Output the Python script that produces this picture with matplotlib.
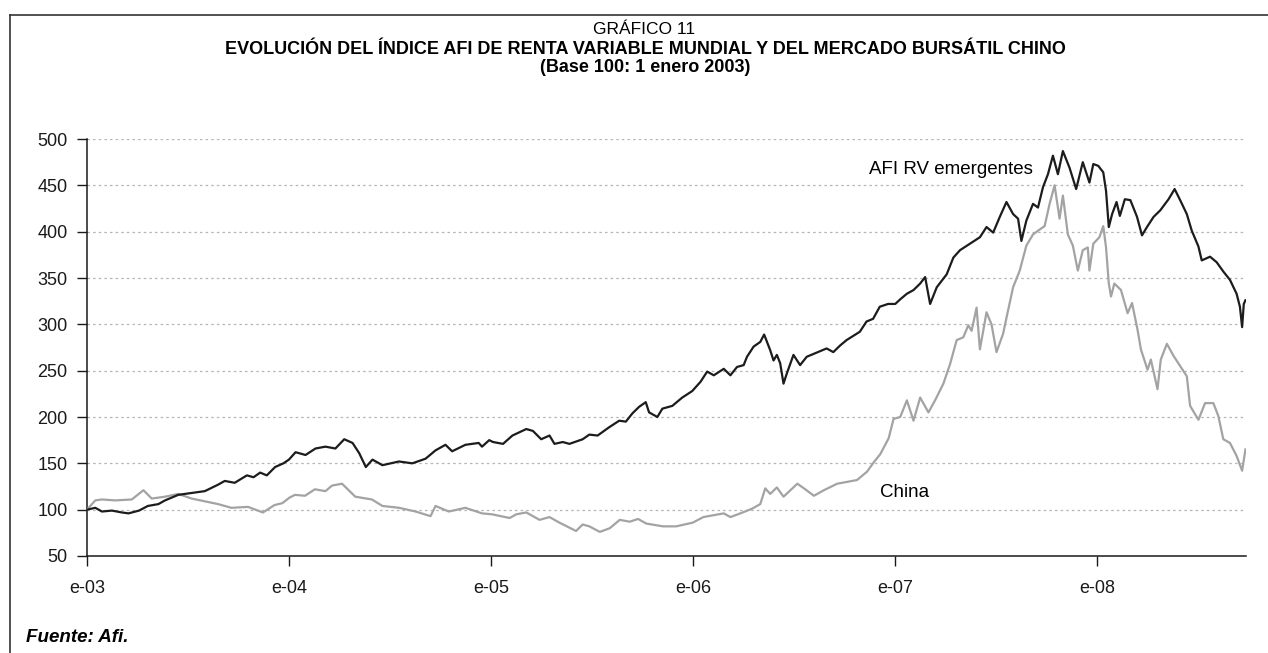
import matplotlib
matplotlib.use("Agg")
import matplotlib.pyplot as plt
from matplotlib.lines import Line2D
import pandas as pd

plt.rcParams['font.family'] = ['Liberation Sans', 'DejaVu Sans']

# AFI RV emergentes (base 100 = 1 enero 2003)
afi_dates = [
    '2003-01-01', '2003-01-16', '2003-01-28', '2003-02-15', '2003-03-05', '2003-03-17',
    '2003-04-05', '2003-04-21', '2003-05-10', '2003-05-22', '2003-06-15', '2003-07-09',
    '2003-08-02', '2003-08-26', '2003-09-07', '2003-09-25', '2003-10-17', '2003-10-29',
    '2003-11-10', '2003-11-22', '2003-12-07', '2003-12-22',
    '2004-01-01', '2004-01-13', '2004-01-31', '2004-02-18', '2004-03-07', '2004-03-25',
    '2004-04-10', '2004-04-25', '2004-05-07', '2004-05-19', '2004-05-31', '2004-06-18',
    '2004-07-18', '2004-08-11', '2004-09-04', '2004-09-22', '2004-10-10', '2004-10-22',
    '2004-11-15', '2004-12-09', '2004-12-15', '2004-12-28',
    '2005-01-04', '2005-01-22', '2005-02-08', '2005-03-05', '2005-03-17', '2005-04-01',
    '2005-04-16', '2005-04-25', '2005-05-10', '2005-05-22', '2005-06-15', '2005-06-27',
    '2005-07-12', '2005-08-02', '2005-08-20', '2005-09-01', '2005-09-13', '2005-09-25',
    '2005-10-07', '2005-10-13', '2005-10-28', '2005-11-06', '2005-11-24', '2005-12-12',
    '2005-12-30',
    '2006-01-14', '2006-01-26', '2006-02-07', '2006-02-25', '2006-03-09', '2006-03-21',
    '2006-04-02', '2006-04-08', '2006-04-20', '2006-05-02', '2006-05-09', '2006-05-20',
    '2006-05-26', '2006-06-01', '2006-06-07', '2006-06-13', '2006-06-19', '2006-07-01',
    '2006-07-13', '2006-07-25', '2006-08-06', '2006-08-30', '2006-09-11', '2006-09-23',
    '2006-10-05', '2006-10-29', '2006-11-10', '2006-11-22', '2006-12-04', '2006-12-19',
    '2007-01-01', '2007-01-10', '2007-01-22', '2007-02-03', '2007-02-15', '2007-02-24',
    '2007-03-05', '2007-03-17', '2007-04-04', '2007-04-16', '2007-04-28', '2007-05-16',
    '2007-06-03', '2007-06-15', '2007-06-27', '2007-07-09', '2007-07-21', '2007-08-02',
    '2007-08-11', '2007-08-17', '2007-08-26', '2007-09-07', '2007-09-16', '2007-09-25',
    '2007-10-04', '2007-10-13', '2007-10-22', '2007-10-31', '2007-11-12', '2007-11-24',
    '2007-12-06', '2007-12-18', '2007-12-25',
    '2008-01-03', '2008-01-12', '2008-01-17', '2008-01-22', '2008-01-28', '2008-02-05',
    '2008-02-11', '2008-02-20', '2008-03-01', '2008-03-13', '2008-03-22', '2008-03-31',
    '2008-04-12', '2008-04-24', '2008-05-09', '2008-05-20', '2008-05-30', '2008-06-11',
    '2008-06-20', '2008-07-02', '2008-07-08', '2008-07-23', '2008-08-04', '2008-08-16',
    '2008-08-28', '2008-09-09', '2008-09-15', '2008-09-19', '2008-09-22', '2008-09-25',
]
afi_values = [
    100, 102, 98, 99, 97, 96,
    99, 104, 106, 110, 116, 118,
    120, 127, 131, 129, 137, 135,
    140, 137, 146, 150,
    154, 162, 159, 166, 168, 166,
    176, 172, 161, 146, 154, 148,
    152, 150, 155, 164, 170, 163,
    170, 172, 168, 175,
    173, 171, 180, 187, 185, 176,
    180, 171, 173, 171, 176, 181,
    180, 189, 196, 195, 204, 211,
    216, 205, 200, 209, 212, 221,
    228,
    238, 249, 245, 252, 245, 254,
    256, 265, 276, 281, 289, 272,
    261, 267, 258, 236, 247, 267,
    256, 265, 268, 274, 270, 277,
    283, 292, 303, 306, 319, 322,
    322, 327, 333, 337, 344, 351,
    322, 340, 354, 372, 380, 387,
    394, 405, 399, 416, 432, 419,
    414, 390, 412, 430, 426, 448,
    462, 482, 462, 487, 469, 446,
    475, 453, 473,
    471, 464, 444, 405, 419, 432,
    417, 435, 434, 416, 396, 405,
    416, 423, 435, 446, 434, 419,
    401, 384, 369, 373, 367, 357,
    348, 333, 319, 297, 322, 326,
]

# China (base 100 = 1 enero 2003)
china_dates = [
    '2003-01-01', '2003-01-16', '2003-01-28', '2003-02-21', '2003-03-23', '2003-04-13',
    '2003-04-28', '2003-05-22', '2003-06-15', '2003-07-09', '2003-08-02', '2003-08-26',
    '2003-09-19', '2003-10-19', '2003-11-15', '2003-12-06', '2003-12-20',
    '2004-01-02', '2004-01-12', '2004-01-30', '2004-02-17', '2004-03-07', '2004-03-19',
    '2004-04-06', '2004-04-30', '2004-05-30', '2004-06-18', '2004-07-18', '2004-08-17',
    '2004-09-13', '2004-09-22', '2004-10-16', '2004-11-15', '2004-12-15',
    '2005-01-02', '2005-01-10', '2005-02-03', '2005-02-15', '2005-03-05', '2005-03-29',
    '2005-04-16', '2005-05-04', '2005-06-03', '2005-06-15', '2005-06-27', '2005-07-16',
    '2005-08-03', '2005-08-21', '2005-09-08', '2005-09-23', '2005-10-08', '2005-11-07',
    '2005-12-01', '2005-12-31',
    '2006-01-19', '2006-02-07', '2006-02-25', '2006-03-09', '2006-03-27', '2006-04-17',
    '2006-05-02', '2006-05-11', '2006-05-20', '2006-06-01', '2006-06-13', '2006-07-08',
    '2006-07-20', '2006-08-07', '2006-08-25', '2006-09-18', '2006-10-06', '2006-10-24',
    '2006-11-11', '2006-11-23', '2006-12-05', '2006-12-20', '2006-12-29',
    '2007-01-10', '2007-01-22', '2007-02-03', '2007-02-15', '2007-03-02', '2007-03-14',
    '2007-03-29', '2007-04-10', '2007-04-22', '2007-05-04', '2007-05-13', '2007-05-19',
    '2007-05-28', '2007-06-03', '2007-06-15', '2007-06-24', '2007-07-03', '2007-07-15',
    '2007-07-21', '2007-08-02', '2007-08-14', '2007-08-26', '2007-09-07', '2007-09-16',
    '2007-09-28', '2007-10-07', '2007-10-16', '2007-10-25', '2007-10-31', '2007-11-09',
    '2007-11-18', '2007-11-27', '2007-12-06', '2007-12-15', '2007-12-18', '2007-12-25',
    '2008-01-05', '2008-01-12', '2008-01-17', '2008-01-22', '2008-01-26', '2008-02-01',
    '2008-02-13', '2008-02-25', '2008-03-04', '2008-03-14', '2008-03-20', '2008-04-01',
    '2008-04-07', '2008-04-19', '2008-04-25', '2008-05-06', '2008-05-18', '2008-05-30',
    '2008-06-11', '2008-06-17', '2008-07-02', '2008-07-14', '2008-07-29', '2008-08-07',
    '2008-08-16', '2008-08-28', '2008-09-09', '2008-09-19', '2008-09-25',
]
china_values = [
    100, 110, 111, 110, 111, 121,
    112, 114, 117, 112, 109, 106,
    102, 103, 97, 105, 107,
    113, 116, 115, 122, 120, 126,
    128, 114, 111, 104, 102, 98,
    93, 104, 98, 102, 96,
    95, 94, 91, 95, 97, 89,
    92, 86, 77, 84, 82, 76,
    80, 89, 87, 90, 85, 82,
    82, 86,
    92, 94, 96, 92, 96, 101,
    106, 123, 117, 124, 114, 128,
    123, 115, 121, 128, 130, 132,
    141, 151, 160, 177, 198,
    200, 218, 196, 221, 205, 218,
    236, 257, 283, 286, 299, 293,
    318, 273, 313, 300, 270, 290,
    307, 340, 358, 385, 397, 401,
    406, 430, 450, 414, 439, 397,
    385, 358, 380, 383, 358, 387,
    394, 406, 383, 344, 330, 344,
    337, 312, 323, 294, 273, 251,
    262, 230, 262, 279, 266, 255,
    244, 212, 197, 215, 215, 201,
    176, 172, 158, 142, 165,
]

tick_dates = ['2003-01-01', '2004-01-01', '2005-01-01', '2006-01-01', '2007-01-01', '2008-01-01']
tick_labels = ['e-03', 'e-04', 'e-05', 'e-06', 'e-07', 'e-08']
y_ticks = [50, 100, 150, 200, 250, 300, 350, 400, 450, 500]

W, H = 1268, 653
fig = plt.figure(figsize=(W / 100, H / 100), dpi=100)
ax = fig.add_axes([87 / W, 1 - 556 / H, (1246 - 87) / W, (556 - 139) / H])

ax.plot(pd.to_datetime(china_dates), china_values, color='#a3a3a3', lw=1.6, zorder=3)
ax.plot(pd.to_datetime(afi_dates), afi_values, color='#1c1c1c', lw=1.6, zorder=4)

ax.set_ylim(50, 500)
ax.set_xlim(pd.Timestamp('2003-01-01'), pd.Timestamp('2008-09-26'))
ax.set_yticks(y_ticks)
ax.set_xticks(pd.to_datetime(tick_dates))
ax.set_xticklabels(tick_labels)
ax.tick_params(axis='both', direction='out', length=7, width=1, labelsize=13, colors='#1a1a1a')
ax.tick_params(axis='y', pad=7)
ax.tick_params(axis='x', pad=10)
for v in y_ticks[1:]:
    ax.axhline(v, color='#b5b5b5', lw=0.9, ls=(0, (2, 2.5)), zorder=1)
for s in ['top', 'right']:
    ax.spines[s].set_visible(False)
for s in ['left', 'bottom']:
    ax.spines[s].set_linewidth(1.1)
    ax.spines[s].set_color('#1a1a1a')

ax.text(pd.Timestamp('2007-09-07'), 467, 'AFI RV emergentes', ha='right', va='center', fontsize=13.5)
ax.text(pd.Timestamp('2006-12-05'), 118, 'China', ha='left', va='center', fontsize=13.5)

# frame around the figure (top and left)
fig.add_artist(Line2D([9.5 / W, 1], [1 - 15 / H, 1 - 15 / H], transform=fig.transFigure, color='#333333', lw=1.2))
fig.add_artist(Line2D([9.5 / W, 9.5 / W], [0, 1 - 15 / H], transform=fig.transFigure, color='#333333', lw=1.2))

fig.text(644 / W, 1 - 30 / H, 'GRÁFICO 11', ha='center', va='center', fontsize=12.5)
fig.text(645 / W, 1 - 49 / H, 'EVOLUCIÓN DEL ÍNDICE AFI DE RENTA VARIABLE MUNDIAL Y DEL MERCADO BURSÁTIL CHINO',
         ha='center', va='center', fontsize=13, fontweight='bold')
fig.text(645 / W, 1 - 68 / H, '(Base 100: 1 enero 2003)', ha='center', va='center', fontsize=13, fontweight='bold')
fig.text(26 / W, 1 - 637 / H, 'Fuente: Afi.', ha='left', va='center', fontsize=13.5, fontweight='bold', style='italic')

fig.savefig('out.png', dpi=100)
